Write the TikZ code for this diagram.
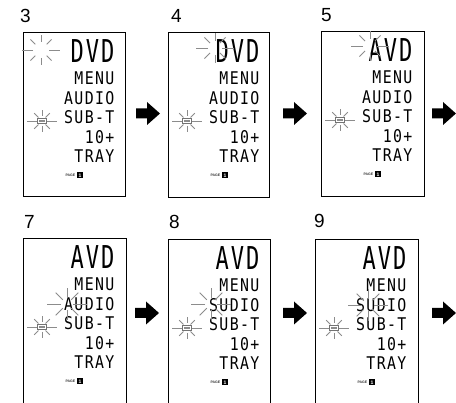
\documentclass[tikz,border=0pt]{standalone}
\usepackage{fontspec}
\setmainfont{Liberation Sans}
\newfontfamily\lcdfont[LetterSpace=9]{DejaVu Sans Mono}
\usetikzlibrary{calc}

%% blinking marker: centre, inner radius, outer radius
\newcommand{\blink}[3]{%
  \foreach \ang in {0,45,...,315}{
    \pgfmathsetmacro{\rout}{#3+(abs(cos(\ang))>0.9?4:0)}
    \draw[ray] ($#1+(\ang:#2)$) -- ($#1+(\ang:\rout)$);
  }
}

%% display lines: name, left, top, first word, third word
\newcommand{\lcdpanel}[5]{%
  \node[lcdbig]  (#1-top)  at (#2+91.5,#3+31)    {#4};
  \node[lcdline] (#1-menu) at (#2+91.5,#3+53)    {MENU};
  \node[lcdline] (#1-aud)  at (#2+91.5,#3+72.5)  {#5};
  \node[lcdline] (#1-sub)  at (#2+91.5,#3+92)    {SUB-T};
  \node[lcdline] (#1-ten)  at (#2+91.5,#3+111.5) {10+};
  \node[lcdline] (#1-tray) at (#2+91.5,#3+131)   {TRAY};
  \node[pagetag] (#1-page) at (#2+52.5,#3+143.5) {PAGE};
  \node[pagebox] (#1-pnum) at (#2+57,#3+143.5)   {1};
  \node[namebox] (#1-name) at (#2+19,#3+89)      {};
  \blink{(#1-name.center)}{5}{11}
}

%% step arrow
\newcommand{\nextarrow}[2]{%
  \fill[shift={(#1,#2)}] (0,-5) -- (11,-5) -- (11,-11.5) -- (24,0)
    -- (11,11.5) -- (11,5) -- (0,5) -- cycle;
}

\begin{document}
\begin{tikzpicture}[x=1pt, y=-1pt,
  steplbl/.style={font=\fontsize{19}{19}\selectfont, anchor=base west, inner sep=0pt},
  lcdline/.style={font=\lcdfont\fontsize{17.5}{17.5}\selectfont, anchor=base east, inner sep=0pt, xscale=0.85},
  lcdbig/.style={font=\lcdfont\fontsize{31.5}{31.5}\selectfont, anchor=base east, inner sep=0pt, xscale=0.7},
  pagetag/.style={font=\bfseries\fontsize{3.5}{3.5}\selectfont, text=black!80, anchor=east, inner sep=0pt},
  pagebox/.style={fill=black, text=white, font=\bfseries\fontsize{5}{5}\selectfont, minimum size=6pt, inner sep=0pt},
  namebox/.style={draw=black!55, fill=white, line width=0.6pt, minimum width=9pt, minimum height=5.5pt, inner sep=0pt,
    path picture={\fill[black!45] ([xshift=1.6pt,yshift=1.6pt]path picture bounding box.south west)
      rectangle ([xshift=-1.6pt,yshift=-1.6pt]path picture bounding box.north east);}},
  panel/.style={draw, line width=0.7pt},
  ray/.style={draw=black!45, line width=0.9pt},
]
\useasboundingbox (0,0) rectangle (456,403);

%% top row
\node[steplbl] (n3) at (20,23) {3};
\draw[panel] (23,32) rectangle (125,196);
\lcdpanel{p3}{23}{32}{DVD}{AUDIO}
\blink{(41,50)}{8}{15}
\nextarrow{136}{113.5}

\node[steplbl] (n4) at (171,23) {4};
\draw[panel] (168,32) rectangle (269,197);
\lcdpanel{p4}{168}{32}{DVD}{AUDIO}
\blink{(215,48)}{7}{15}
\nextarrow{283}{113.5}

\node[steplbl] (n5) at (321,22) {5};
\draw[panel] (321,31) rectangle (424,196);
\lcdpanel{p5}{321}{31}{AVD}{AUDIO}
\blink{(370,46)}{7}{15}
\nextarrow{432}{113.5}

%% bottom row
\node[steplbl] (n7) at (24,229) {7};
\draw[panel] (23,403) |- (126,238) -- (126,403);
\lcdpanel{p7}{23}{238}{AVD}{AUDIO}
\blink{(67,304)}{6}{16}
\nextarrow{135}{313}

\node[steplbl] (n8) at (169,229) {8};
\draw[panel] (168,403) |- (270,239) -- (270,403);
\lcdpanel{p8}{168}{239}{AVD}{SUDIO}
\blink{(211,304)}{6}{16}
\nextarrow{283}{313}

\node[steplbl] (n9) at (314,228) {9};
\draw[panel] (315,403) |- (418,239) -- (418,403);
\lcdpanel{p9}{315}{239}{AVD}{SUDIO}
\blink{(368,305)}{6}{16}
\nextarrow{432}{313}
\end{tikzpicture}
\end{document}
